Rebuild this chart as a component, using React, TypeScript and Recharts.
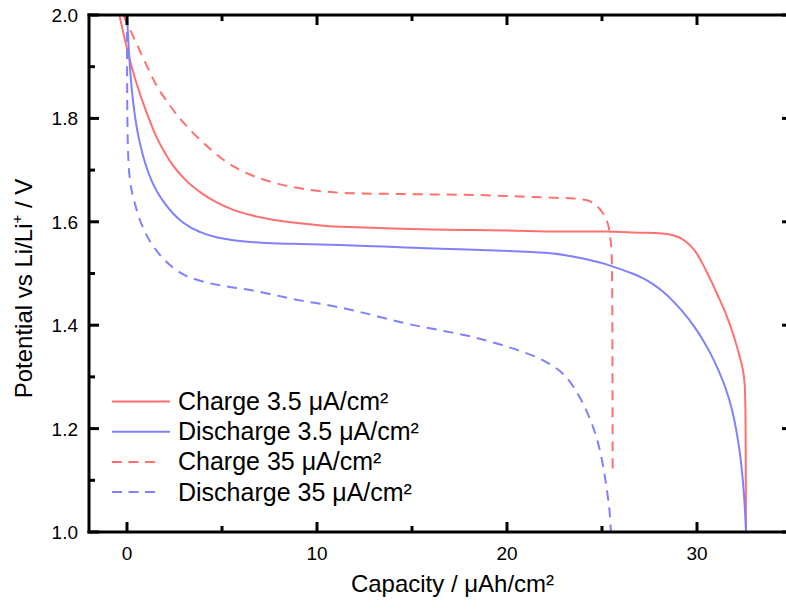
import React from 'react';
import { LineChart, Line, XAxis, YAxis, Legend } from 'recharts';

// ---- data (capacity µAh/cm², potential V) ----
const charge35Low: [number, number][] = [
  [-0.4, 2.0], [0.0, 1.935], [0.4, 1.88], [0.8, 1.835], [1.2, 1.795], [1.5, 1.768], [2.0, 1.733],
  [2.4, 1.71], [3.0, 1.684], [3.9, 1.656], [4.7, 1.638], [5.6, 1.623], [6.5, 1.613], [7.4, 1.606],
  [9.1, 1.597], [10.5, 1.592], [11.75, 1.59], [14, 1.587], [16, 1.585], [18.2, 1.584], [20, 1.583],
  [22.8, 1.581], [25.2, 1.581], [27, 1.579], [28.0, 1.578], [28.5, 1.576], [28.9, 1.572],
  [29.2, 1.567], [29.5, 1.559], [29.75, 1.55], [30.0, 1.538], [30.25, 1.522], [30.5, 1.504],
  [30.7, 1.489], [31.1, 1.457], [31.55, 1.419], [31.9, 1.383], [32.25, 1.339], [32.4, 1.316],
  [32.5, 1.29], [32.54, 1.255], [32.56, 1.18], [32.57, 1.08], [32.58, 1.0],
];

const discharge35Low: [number, number][] = [
  [0.0, 2.0], [0.1, 1.93], [0.2, 1.878], [0.32, 1.833], [0.48, 1.79], [0.65, 1.757], [0.85, 1.727],
  [1.05, 1.703], [1.3, 1.679], [1.6, 1.657], [2.0, 1.635], [2.4, 1.617], [2.8, 1.603], [3.3, 1.59],
  [4.0, 1.578], [4.7, 1.57], [5.5, 1.565], [6.5, 1.561], [8, 1.558], [9.1, 1.557], [11.2, 1.555],
  [13.5, 1.552], [16.5, 1.548], [19, 1.545], [21, 1.542], [22, 1.54], [23, 1.536], [24, 1.529],
  [25, 1.52], [26, 1.508], [26.6, 1.5], [27.2, 1.49], [27.7, 1.479], [28.2, 1.465], [28.7, 1.448],
  [29.2, 1.428], [29.8, 1.4], [30.3, 1.372], [30.7, 1.346], [31.1, 1.315], [31.55, 1.273],
  [31.85, 1.235], [32.1, 1.19], [32.3, 1.14], [32.43, 1.092], [32.52, 1.045], [32.58, 1.0],
];

const charge35High: [number, number][] = [
  [-0.2, 2.0], [0.09, 1.977], [0.5, 1.945], [1.0, 1.905], [1.58, 1.862], [2.1, 1.833], [2.8, 1.799],
  [3.5, 1.771], [4.38, 1.741], [5.0, 1.722], [5.61, 1.707], [6.3, 1.694], [7.0, 1.684], [7.8, 1.675],
  [8.76, 1.667], [9.8, 1.661], [10.87, 1.657], [12, 1.655], [14, 1.654], [16, 1.653], [18.2, 1.652],
  [20, 1.65], [22, 1.647], [23.5, 1.645], [24.0, 1.643], [24.4, 1.639], [24.72, 1.631], [25.0, 1.619],
  [25.2, 1.606], [25.35, 1.59], [25.45, 1.565], [25.51, 1.535], [25.54, 1.45], [25.56, 1.12],
];

const discharge35High: [number, number][] = [
  [0.0, 2.0], [0.01, 1.85], [0.03, 1.775], [0.08, 1.715], [0.17, 1.678], [0.35, 1.645], [0.53, 1.62],
  [0.85, 1.588], [1.23, 1.561], [1.6, 1.542], [1.93, 1.528], [2.4, 1.512], [2.98, 1.498], [3.6, 1.489],
  [4.38, 1.481], [5.4, 1.474], [6.49, 1.468], [7.8, 1.458], [9.1, 1.448], [10.4, 1.44], [11.75, 1.43],
  [13.2, 1.417], [14.73, 1.403], [16.5, 1.39], [18.23, 1.377], [19.6, 1.363], [20.86, 1.348],
  [21.5, 1.339], [22.1, 1.328], [22.5, 1.319], [22.8, 1.311], [23.15, 1.298], [23.49, 1.281],
  [23.85, 1.259], [24.2, 1.233], [24.5, 1.206], [24.72, 1.181], [24.95, 1.148], [25.16, 1.105],
  [25.3, 1.07], [25.42, 1.03], [25.47, 1.0],
];

const seriesNames = ['Charge 3.5 μA/cm²', 'Discharge 3.5 μA/cm²', 'Charge 35 μA/cm²', 'Discharge 35 μA/cm²'];
const seriesColors = ['#FF7070', '#8080FF', '#FF7070', '#8080FF'];
const seriesDashed = [false, false, true, true];
const seriesData = [charge35Low, discharge35Low, charge35High, discharge35High];

const xTicks = [0, 5, 10, 15, 20, 25, 30];
const xMajor = [0, 10, 20, 30];
const yTicks = [1.0, 1.1, 1.2, 1.3, 1.4, 1.5, 1.6, 1.7, 1.8, 1.9, 2.0];
const yMajor = [1.0, 1.2, 1.4, 1.6, 1.8, 2.0];
const xDomain: [number, number] = [-2, 35];
const yDomain: [number, number] = [1, 2];

const FONT = '"Liberation Sans", Arial, Helvetica, sans-serif';
const MAJ = 10;
const MIN = 6;

const toRows = (arr: [number, number][]) => arr.map(([x, y]) => ({ x, y }));
const isXMajor = (v: number) => xMajor.some((m) => Math.abs(m - v) < 1e-6);
const isYMajor = (v: number) => yMajor.some((m) => Math.abs(m - v) < 1e-6);

const BottomTick = (props: any) => {
  const { x, y, payload } = props;
  const v = payload.value;
  const major = isXMajor(v);
  return (
    <g>
      <line x1={x} x2={x} y1={y} y2={y - (major ? MAJ : MIN)} stroke="#000" strokeWidth={3} />
      {major && (
        <text x={x} y={y + 28} textAnchor="middle" fontSize={19} fontFamily={FONT} fill="#000">
          {v}
        </text>
      )}
    </g>
  );
};

const TopTick = (props: any) => {
  const { x, y, payload } = props;
  const major = isXMajor(payload.value);
  return <line x1={x} x2={x} y1={y} y2={y + (major ? MAJ : MIN)} stroke="#000" strokeWidth={3} />;
};

const LeftTick = (props: any) => {
  const { x, y, payload } = props;
  const v = payload.value;
  const major = isYMajor(v);
  return (
    <g>
      <line x1={x} x2={x + (major ? MAJ : MIN)} y1={y} y2={y} stroke="#000" strokeWidth={3} />
      {major && (
        <text x={x - 11} y={y + 7} textAnchor="end" fontSize={19} fontFamily={FONT} fill="#000">
          {Number(v).toFixed(1)}
        </text>
      )}
    </g>
  );
};

const RightTick = (props: any) => {
  const { x, y, payload } = props;
  const major = isYMajor(payload.value);
  return <line x1={x} x2={x - (major ? MAJ : MIN)} y1={y} y2={y} stroke="#000" strokeWidth={3} />;
};

const XTitle = (props: any) => {
  const vb = props.viewBox;
  return (
    <text x={vb.x + vb.width / 2 + 12} y={vb.y + 60} textAnchor="middle" fontSize={24} fontFamily={FONT} fill="#000">
      Capacity / μAh/cm²
    </text>
  );
};

const YTitle = (props: any) => {
  const vb = props.viewBox;
  const cx = 31.5;
  const cy = vb.y + vb.height / 2 + 15;
  return (
    <text
      x={cx}
      y={cy}
      transform={`rotate(-90, ${cx}, ${cy})`}
      textAnchor="middle"
      fontSize={24}
      fontFamily={FONT}
      fill="#000"
    >
      Potential vs Li/Li
      <tspan dy={-10} fontSize={15}>+</tspan>
      <tspan dy={10}> / V</tspan>
    </text>
  );
};

const LegendBox = () => (
  <svg width={360} height={130} style={{ overflow: 'visible', display: 'block' }}>
    {seriesNames.map((name, i) => {
      const cy = 21.5 + i * 30.2;
      return (
        <g key={name}>
          <line
            x1={12}
            x2={seriesDashed[i] ? 56 : 70}
            y1={cy}
            y2={cy}
            stroke={seriesColors[i]}
            strokeWidth={2}
            strokeDasharray={seriesDashed[i] ? '10 6.5' : undefined}
          />
          <text x={78} y={cy + 8.5} fontSize={25} fontFamily={FONT} fill="#000">
            {name}
          </text>
        </g>
      );
    })}
  </svg>
);

export default function App() {
  return (
    <div
      style={{
        position: 'fixed',
        left: 0,
        top: 0,
        width: 786,
        height: 612,
        overflow: 'hidden',
        background: '#fff',
      }}
    >
      <LineChart width={800} height={612} margin={{ top: 14, right: 7, bottom: 0, left: 0 }}>
        <XAxis
          xAxisId="b"
          orientation="bottom"
          type="number"
          dataKey="x"
          domain={xDomain}
          allowDataOverflow
          ticks={xTicks}
          interval={0}
          height={80}
          tickSize={0}
          tickMargin={0}
          tickLine={false}
          tick={<BottomTick />}
          axisLine={{ stroke: '#000', strokeWidth: 3, strokeLinecap: 'square' }}
          label={XTitle}
        />
        <XAxis
          xAxisId="t"
          orientation="top"
          type="number"
          dataKey="x"
          domain={xDomain}
          allowDataOverflow
          ticks={xTicks}
          interval={0}
          height={1}
          tickSize={0}
          tickMargin={0}
          tickLine={false}
          tick={<TopTick />}
          axisLine={{ stroke: '#000', strokeWidth: 3, strokeLinecap: 'square' }}
        />
        <YAxis
          yAxisId="l"
          orientation="left"
          type="number"
          domain={yDomain}
          allowDataOverflow
          ticks={yTicks}
          interval={0}
          width={89}
          tickSize={0}
          tickMargin={0}
          tickLine={false}
          tick={<LeftTick />}
          axisLine={{ stroke: '#000', strokeWidth: 3, strokeLinecap: 'square' }}
          label={YTitle}
        />
        <YAxis
          yAxisId="r"
          orientation="right"
          type="number"
          domain={yDomain}
          allowDataOverflow
          ticks={yTicks}
          interval={0}
          width={1}
          tickSize={0}
          tickMargin={0}
          tickLine={false}
          tick={<RightTick />}
          axisLine={{ stroke: '#000', strokeWidth: 3, strokeLinecap: 'square' }}
        />
        <Legend
          layout="horizontal"
          verticalAlign="middle"
          align="center"
          content={() => <LegendBox />}
          wrapperStyle={{ position: 'absolute', left: 100, top: 380, width: 360, height: 130 }}
        />
        <Line
          data={toRows(charge35Low)}
          dataKey="y"
          xAxisId="t"
          yAxisId="r"
          stroke="none"
          dot={false}
          legendType="none"
          isAnimationActive={false}
        />
        {seriesData.map((d, i) => (
          <Line
            key={seriesNames[i]}
            name={seriesNames[i]}
            data={toRows(d)}
            dataKey="y"
            xAxisId="b"
            yAxisId="l"
            type="monotone"
            stroke={seriesColors[i]}
            strokeWidth={2}
            strokeDasharray={seriesDashed[i] ? '10 7' : undefined}
            dot={false}
            activeDot={false}
            isAnimationActive={false}
          />
        ))}
      </LineChart>
    </div>
  );
}
